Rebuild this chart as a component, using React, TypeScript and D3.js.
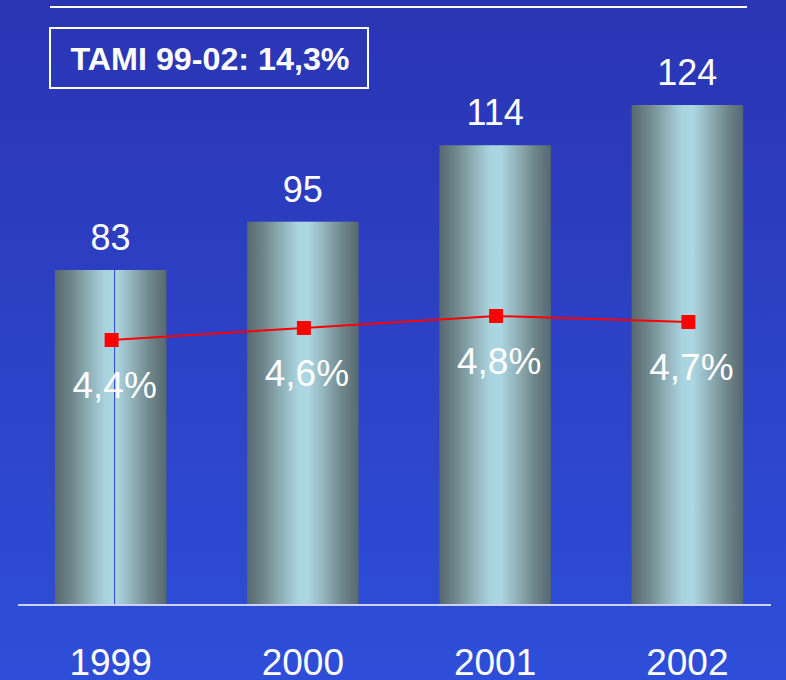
import React, { useEffect } from 'react';
import * as d3 from 'd3';

const years = ['1999', '2000', '2001', '2002'];
const values = [83, 95, 114, 124];
const growth = [4.4, 4.6, 4.8, 4.7];
const growthLabels = ['4,4%', '4,6%', '4,8%', '4,7%'];
const boxText = 'TAMI 99-02: 14,3%';

const W = 786;
const H = 680;
const baseY = 604;
const font = '"Liberation Sans", Arial, sans-serif';

const App = () => {
  useEffect(() => {
    document.body.style.margin = '0';
  }, []);

  const x = d3.scaleBand<string>().domain(years).range([14.5, 783.5]).paddingInner(0.42).paddingOuter(0.21);
  const y = d3.scaleLinear().domain([0, 124]).range([baseY, 105]);
  const yPct = d3.scaleLinear().domain([0, 10]).range([baseY, 4]);
  const bw = x.bandwidth();
  const cx = (d: string) => (x(d) ?? 0) + bw / 2;

  const line = d3.line<number>()
    .x((_, i) => cx(years[i]) + 1)
    .y((d) => yPct(d));

  return (
    <svg width={W} height={H} style={{ display: 'block' }}>
      <defs>
        <linearGradient id="bg" x1="0" y1="0" x2="0" y2="1">
          <stop offset="0" stopColor="#2a35b3" />
          <stop offset="1" stopColor="#2e4ed9" />
        </linearGradient>
        <linearGradient id="bar" x1="0" y1="0" x2="1" y2="0">
          <stop offset="0" stopColor="#56696e" />
          <stop offset="0.15" stopColor="#6f878c" />
          <stop offset="0.32" stopColor="#92b3bb" />
          <stop offset="0.45" stopColor="#a9d3df" />
          <stop offset="0.55" stopColor="#acd6e2" />
          <stop offset="0.7" stopColor="#90b0b8" />
          <stop offset="0.85" stopColor="#6f878c" />
          <stop offset="1" stopColor="#56696e" />
        </linearGradient>
      </defs>
      <rect width={W} height={H} fill="url(#bg)" />
      <line x1={50} x2={747} y1={7} y2={7} stroke="#ffffff" strokeWidth={2} />

      <rect x={50} y={28} width={318} height={60} fill="none" stroke="#ffffff" strokeWidth={2} />
      <text x={210} y={70} textAnchor="middle" fill="#ffffff" fontFamily={font} fontWeight="bold" fontSize={32}
        textLength={279} lengthAdjust="spacingAndGlyphs">{boxText}</text>

      {years.map((yr, i) => (
        <g key={yr}>
          <rect x={x(yr)} y={y(values[i])} width={bw} height={baseY - y(values[i])} fill="url(#bar)" />
          <text x={cx(yr)} y={y(values[i]) - 20} textAnchor="middle" fill="#ffffff" fontFamily={font} fontSize={36}>{values[i]}</text>
          <text x={cx(yr)} y={675} textAnchor="middle" fill="#ffffff" fontFamily={font} fontSize={37}>{yr}</text>
        </g>
      ))}
      <line x1={cx(years[0]) + 4} x2={cx(years[0]) + 4} y1={y(values[0])} y2={baseY} stroke="#2a3fc0" strokeWidth={1} />

      <line x1={18} x2={771} y1={baseY + 1} y2={baseY + 1} stroke="#ffffff" strokeWidth={1.5} />

      <path d={line(growth) ?? ''} fill="none" stroke="#ff0000" strokeWidth={2} />
      {growth.map((g, i) => (
        <rect key={i} x={cx(years[i]) + 1 - 7} y={yPct(g) - 7} width={14} height={14} fill="#ff0000" />
      ))}
      {growth.map((g, i) => (
        <text key={i} x={cx(years[i]) + 4} y={yPct(g) + 58} textAnchor="middle" fill="#ffffff" fontFamily={font} fontSize={37}>{growthLabels[i]}</text>
      ))}
    </svg>
  );
};

export default App;
